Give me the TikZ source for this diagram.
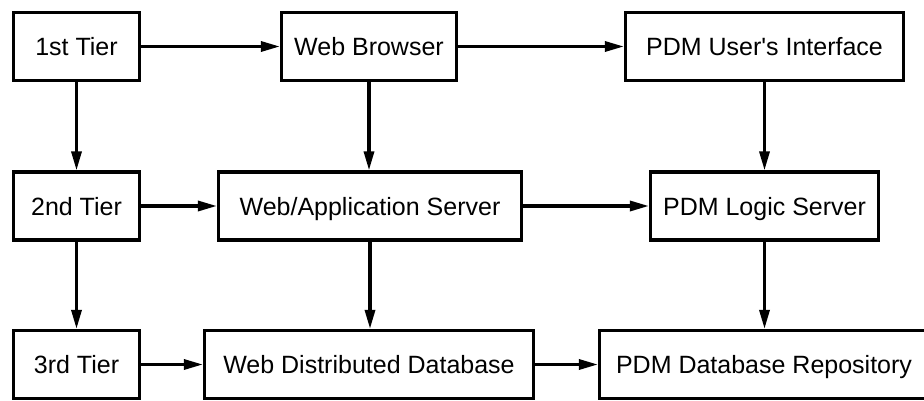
\documentclass[tikz,border=0pt]{standalone}
\usepackage{fontspec}
\setmainfont{Liberation Sans}
\usetikzlibrary{arrows.meta}

\begin{document}
\begin{tikzpicture}[x=1pt, y=-1pt,
		box/.style={draw, line width=3.2pt, minimum height=68pt, inner sep=0pt,
			text height=18pt, text depth=0pt, font=\fontsize{25}{30}\selectfont},
		link/.style={line width=3.2pt, -{Triangle[length=19pt, width=10pt]}}]
			%%%%% START %%%%%
			
			\useasboundingbox (0, 0) rectangle (924, 401);
			
			\node[box, minimum width=126pt] (tier1) at (76.5, 46.5) {1st Tier};
			\node[box, minimum width=175pt] (browser) at (369, 46.5) {Web Browser};
			\node[box, minimum width=278pt] (ui) at (764.5, 46.5) {PDM User\textquotesingle s Interface};
			
			\node[box, minimum width=126pt] (tier2) at (76.5, 206) {2nd Tier};
			\node[box, minimum width=303pt] (appserver) at (370, 206) {Web/Application Server};
			\node[box, minimum width=228pt] (logic) at (764.5, 206) {PDM Logic Server};
			
			\node[box, minimum width=126pt] (tier3) at (76.5, 364.5) {3rd Tier};
			\node[box, minimum width=329pt] (webdb) at (369, 364.5) {Web Distributed Database};
			\node[box, minimum width=329pt] (repo) at (764, 364.5) {PDM Database Repository};
			
			\draw[link] (tier1) -- (browser);
			\draw[link] (browser) -- (ui);
			\draw[link] (tier2) -- (appserver);
			\draw[link] (appserver) -- (logic);
			\draw[link] (tier3) -- (webdb);
			\draw[link] (webdb) -- (repo);
			
			\draw[link] (tier1) -- (tier2);
			\draw[link] (tier2) -- (tier3);
			\draw[link] (browser.south) -- (browser.south |- appserver.north);
			\draw[link] (appserver.south) -- (appserver.south |- webdb.north);
			\draw[link] (ui.south) -- (ui.south |- logic.north);
			\draw[link] (logic.south) -- (logic.south |- repo.north);
			
			%%%%% END %%%%%
		\end{tikzpicture}
\end{document}
